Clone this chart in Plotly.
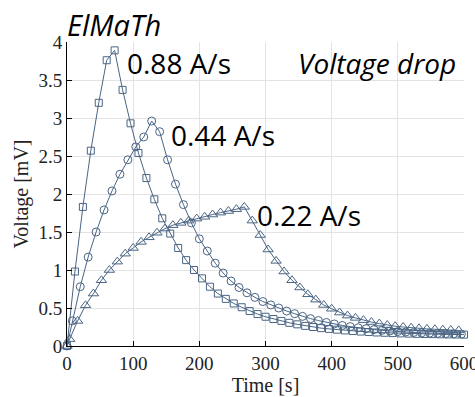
import plotly.graph_objects as go

t_sq = [0, 12, 24, 36, 48, 60, 72, 84, 96, 108, 120, 132, 144, 156, 168, 180, 192, 204, 216, 228,
        240, 252, 264, 276, 288, 300, 312, 324, 336, 348, 360, 372, 384, 396, 408, 420, 432, 444,
        456, 468, 480, 492, 504, 516, 528, 540, 552, 564, 576, 588, 600]
v_sq = [0, 0.98, 1.83, 2.57, 3.20, 3.76, 3.89, 3.37, 2.93, 2.54, 2.21, 1.93, 1.68, 1.48, 1.29, 1.13,
        1.00, 0.89, 0.78, 0.69, 0.62, 0.56, 0.51, 0.46, 0.42, 0.385, 0.355, 0.33, 0.305, 0.285, 0.265,
        0.25, 0.235, 0.225, 0.215, 0.205, 0.197, 0.19, 0.184, 0.178, 0.174, 0.17, 0.166, 0.163, 0.16,
        0.158, 0.156, 0.154, 0.152, 0.151, 0.15]

t_ci = [0, 8, 20, 32, 44, 56, 68, 80, 92, 104, 116, 128, 140, 152, 164, 176, 188, 200, 212, 224,
        236, 248, 260, 272, 284, 296, 308, 320, 332, 344, 356, 368, 380, 392, 404, 416, 428, 440,
        452, 464, 476, 488, 500, 512, 524, 536, 548, 560, 572, 584, 596]
v_ci = [0, 0.33, 0.78, 1.17, 1.50, 1.79, 2.04, 2.26, 2.45, 2.62, 2.75, 2.96, 2.82, 2.45, 2.13, 1.86,
        1.62, 1.41, 1.25, 1.09, 0.96, 0.855, 0.77, 0.70, 0.64, 0.585, 0.54, 0.50, 0.46, 0.425, 0.39,
        0.36, 0.335, 0.31, 0.29, 0.27, 0.255, 0.24, 0.228, 0.216, 0.206, 0.197, 0.19, 0.184, 0.178,
        0.173, 0.169, 0.165, 0.162, 0.159, 0.157]

t_tr = [0, 4, 16, 28, 40, 52, 64, 76, 88, 100, 112, 124, 136, 148, 160, 172, 184, 196, 208, 220,
        232, 244, 256, 268, 280, 292, 304, 316, 328, 340, 352, 364, 376, 388, 400, 412, 424, 436,
        448, 460, 472, 484, 496, 508, 520, 532, 544, 556, 568, 580, 592]
v_tr = [0, 0.09, 0.33, 0.535, 0.69, 0.865, 1.0, 1.11, 1.215, 1.29, 1.37, 1.43, 1.49, 1.545, 1.59,
        1.62, 1.65, 1.676, 1.70, 1.73, 1.755, 1.776, 1.80, 1.83, 1.65, 1.46, 1.27, 1.12, 0.98, 0.865,
        0.77, 0.68, 0.61, 0.54, 0.49, 0.44, 0.40, 0.37, 0.34, 0.315, 0.295, 0.275, 0.26, 0.25, 0.24,
        0.232, 0.225, 0.22, 0.215, 0.21, 0.205]

series_labels = ["0.88 A/s", "0.44 A/s", "0.22 A/s"]
x_ticks = [0, 100, 200, 300, 400, 500, 600]
y_ticks = [0, 0.5, 1, 1.5, 2, 2.5, 3, 3.5, 4]
y_ticktext = ["0", "0.5", "1", "1.5", "2", "2.5", "3", "3.5", "4"]

C = "#4a6584"
fig = go.Figure()
for t, v, sym, sz in [(t_sq, v_sq, "square-open", 7), (t_ci, v_ci, "circle-open", 8),
                      (t_tr, v_tr, "triangle-up-open", 9)]:
    fig.add_trace(go.Scatter(
        x=t, y=v, mode="lines+markers",
        line=dict(color=C, width=1),
        marker=dict(symbol=sym, size=sz, color=C, line=dict(width=1, color=C)),
        cliponaxis=False, showlegend=False))

sans = "Open Sans"
ann = [
    dict(x=88, y=3.72, text=series_labels[0]),
    dict(x=154, y=2.78, text=series_labels[1]),
    dict(x=284, y=1.72, text=series_labels[2]),
]
for a in ann:
    fig.add_annotation(x=a["x"], y=a["y"], text=a["text"], showarrow=False, xanchor="left",
                       yanchor="middle", font=dict(family=sans, size=28, color="black"))

fig.add_annotation(xref="paper", yref="paper", x=-0.005, y=1.0, yshift=18, text="<i>ElMaTh</i>",
                   showarrow=False, xanchor="left", yanchor="middle",
                   font=dict(family=sans, size=29, color="black"))
fig.add_annotation(xref="paper", yref="paper", x=0.985, y=0.93, text="<i>Voltage drop</i>",
                   showarrow=False, xanchor="right", yanchor="middle",
                   font=dict(family=sans, size=28, color="black"))

serif = "Liberation Serif"
fig.update_layout(
    width=475, height=397,
    margin=dict(l=67, r=11, t=42, b=51, autoexpand=False),
    paper_bgcolor="white", plot_bgcolor="white",
    xaxis=dict(range=[0, 600], tickvals=x_ticks, automargin=False,
               ticks="inside", ticklen=5, tickcolor="black", ticklabeloverflow="allow",
               showline=True, linecolor="black", linewidth=1,
               showgrid=True, gridcolor="#e3e3e3", gridwidth=1, zeroline=False,
               tickfont=dict(family=serif, size=19, color="#222"),
               title=dict(text="Time [s]", font=dict(family=serif, size=20, color="#222"), standoff=2)),
    yaxis=dict(range=[0, 4], tickvals=y_ticks, ticktext=y_ticktext, automargin=False,
               ticks="inside", ticklen=5, tickcolor="black", ticklabeloverflow="allow",
               showline=True, linecolor="black", linewidth=1,
               showgrid=True, gridcolor="#e3e3e3", gridwidth=1, zeroline=False,
               tickfont=dict(family=serif, size=19, color="#222"),
               title=dict(text="Voltage [mV]", font=dict(family=serif, size=20, color="#222"), standoff=4)),
)

fig.write_html("out.html")
